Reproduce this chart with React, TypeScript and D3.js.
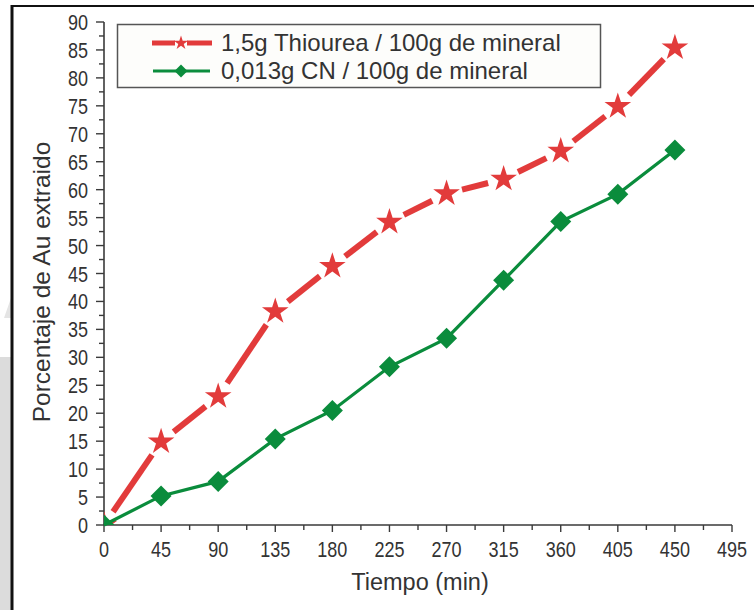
import React, { useEffect, useRef } from "react";
import * as d3 from "d3";

const times = [0, 45, 90, 135, 180, 225, 270, 315, 360, 405, 450];
const thiourea = [0, 14.9, 23.0, 38.2, 46.3, 54.2, 59.3, 61.9, 66.9, 74.9, 85.4];
const cyanide = [0, 5.2, 7.8, 15.4, 20.5, 28.3, 33.4, 43.8, 54.3, 59.2, 67.1];
const xTicks = [0, 45, 90, 135, 180, 225, 270, 315, 360, 405, 450, 495];
const yTicks = [0, 5, 10, 15, 20, 25, 30, 35, 40, 45, 50, 55, 60, 65, 70, 75, 80, 85, 90];
const seriesNames = ["1,5g Thiourea / 100g de mineral", "0,013g CN / 100g de mineral"];
const xTitle = "Tiempo (min)";
const yTitle = "Porcentaje de Au extraido";

const RED = "#e23b3b";
const GREEN = "#0a8c3c";
const AXIS = "#3a3a3a";
const FONT = "'Liberation Sans', Arial, sans-serif";

export default function App() {
  const ref = useRef<SVGSVGElement>(null);

  useEffect(() => {
    const svg = d3.select(ref.current);
    svg.selectAll("*").remove();

    const x = d3.scaleLinear().domain([0, 495]).range([104, 732]);
    const y = d3.scaleLinear().domain([0, 90]).range([525, 22]);

    // frame / screenshot decorations
    svg.append("rect").attr("x", 0).attr("y", 0).attr("width", 754).attr("height", 610).attr("fill", "#fff");
    svg.append("rect").attr("x", 0).attr("y", 357).attr("width", 11).attr("height", 253).attr("fill", "#dcdcdc");
    svg.append("polygon").attr("points", "11,298 11,318 4,318").attr("fill", "#e4e4e4");
    svg.append("line").attr("x1", 11).attr("x2", 754).attr("y1", 6).attr("y2", 6).attr("stroke", "#111").attr("stroke-width", 2);
    svg.append("line").attr("x1", 12).attr("x2", 12).attr("y1", 5).attr("y2", 610).attr("stroke", "#111").attr("stroke-width", 3);

    const defs = svg.append("defs");
    defs.append("clipPath").attr("id", "plotclip").append("rect")
      .attr("x", x(0)).attr("y", 0).attr("width", 754 - x(0)).attr("height", y(0));

    // axes
    const xMinor = d3.range(0, 495, 22.5).filter((v) => v % 45 !== 0);
    const yMinor = d3.range(2.5, 90, 5);

    const gx = svg.append("g").attr("transform", `translate(0,${y(0)})`);
    gx.append("line").attr("x1", x(0)).attr("x2", x(495)).attr("stroke", AXIS).attr("stroke-width", 1.6);
    gx.selectAll("line.maj").data(xTicks).join("line").attr("class", "maj")
      .attr("x1", (d) => x(d)).attr("x2", (d) => x(d)).attr("y1", 0).attr("y2", 7)
      .attr("stroke", AXIS).attr("stroke-width", 1.4);
    gx.selectAll("line.min").data(xMinor).join("line").attr("class", "min")
      .attr("x1", (d) => x(d)).attr("x2", (d) => x(d)).attr("y1", 0).attr("y2", 5)
      .attr("stroke", AXIS).attr("stroke-width", 1.4);
    gx.selectAll("text").data(xTicks).join("text")
      .attr("transform", (d) => `translate(${x(d)},32) scale(0.82,1)`).attr("text-anchor", "middle")
      .attr("font-family", FONT).attr("font-size", 22).attr("fill", "#333")
      .text((d) => String(d));

    const gy = svg.append("g").attr("transform", `translate(${x(0)},0)`);
    gy.append("line").attr("y1", y(0)).attr("y2", y(90)).attr("stroke", AXIS).attr("stroke-width", 1.6);
    gy.selectAll("line.maj").data(yTicks).join("line").attr("class", "maj")
      .attr("y1", (d) => y(d)).attr("y2", (d) => y(d)).attr("x1", 0).attr("x2", -8)
      .attr("stroke", AXIS).attr("stroke-width", 1.4);
    gy.selectAll("line.min").data(yMinor).join("line").attr("class", "min")
      .attr("y1", (d) => y(d)).attr("y2", (d) => y(d)).attr("x1", 0).attr("x2", -5)
      .attr("stroke", AXIS).attr("stroke-width", 1.4);
    gy.selectAll("text").data(yTicks).join("text")
      .attr("transform", (d) => `translate(-16,${y(d) + 8}) scale(0.82,1)`).attr("text-anchor", "end")
      .attr("font-family", FONT).attr("font-size", 22).attr("fill", "#333")
      .text((d) => String(d));

    svg.append("text").attr("x", 420).attr("y", 590).attr("text-anchor", "middle")
      .attr("font-family", FONT).attr("font-size", 23.5).attr("fill", "#333").text(xTitle);
    svg.append("text").attr("transform", `translate(50,282) rotate(-90)`).attr("text-anchor", "middle")
      .attr("font-family", FONT).attr("font-size", 24.5).attr("fill", "#333").text(yTitle);

    const starSize = (r: number) => (r * r) / 0.8908130915292852;
    const star = (r: number) => d3.symbol().type(d3.symbolStar).size(starSize(r))()!;
    const diamond = (h: number) => d3.symbol().type(d3.symbolSquare).size(2 * h * h)()!;

    const plot = svg.append("g");

    // red series: segments with gaps around markers
    const redPts = times.map((t, i) => [x(t), y(thiourea[i])] as [number, number]);
    const gap = 16;
    const segs: [number, number, number, number][] = [];
    for (let i = 0; i < redPts.length - 1; i++) {
      const [x1, y1] = redPts[i];
      const [x2, y2] = redPts[i + 1];
      const L = Math.hypot(x2 - x1, y2 - y1);
      const ux = (x2 - x1) / L, uy = (y2 - y1) / L;
      segs.push([x1 + ux * gap, y1 + uy * gap, x2 - ux * gap, y2 - uy * gap]);
    }
    plot.selectAll("line.red").data(segs).join("line").attr("class", "red")
      .attr("x1", (d) => d[0]).attr("y1", (d) => d[1]).attr("x2", (d) => d[2]).attr("y2", (d) => d[3])
      .attr("stroke", RED).attr("stroke-width", 6);
    const redMarks = plot.append("g").attr("clip-path", "url(#plotclip)");
    redMarks.selectAll("path").data(redPts).join("path")
      .attr("d", star(14)).attr("transform", (d) => `translate(${d[0]},${d[1]})`)
      .attr("fill", RED);

    const greenPts = times.map((t, i) => [x(t), y(cyanide[i])] as [number, number]);
    plot.append("path").attr("d", d3.line()(greenPts)).attr("fill", "none")
      .attr("stroke", GREEN).attr("stroke-width", 3.2);
    const greenMarks = plot.append("g").attr("clip-path", "url(#plotclip)");
    greenMarks.selectAll("path").data(greenPts).join("path")
      .attr("d", diamond(10.5)).attr("transform", (d) => `translate(${d[0]},${d[1]}) rotate(45)`)
      .attr("fill", GREEN);

    // legend
    const lg = svg.append("g");
    lg.append("rect").attr("x", 117.5).attr("y", 24.5).attr("width", 483).attr("height", 63)
      .attr("fill", "#fdfdfb").attr("stroke", "#555").attr("stroke-width", 1.5);
    lg.append("line").attr("x1", 152).attr("x2", 175).attr("y1", 43).attr("y2", 43).attr("stroke", RED).attr("stroke-width", 5);
    lg.append("line").attr("x1", 187).attr("x2", 212).attr("y1", 43).attr("y2", 43).attr("stroke", RED).attr("stroke-width", 5);
    lg.append("path").attr("d", star(7.5)).attr("transform", "translate(181,43)").attr("fill", RED);
    lg.append("line").attr("x1", 153).attr("x2", 210).attr("y1", 71).attr("y2", 71).attr("stroke", GREEN).attr("stroke-width", 3);
    lg.append("path").attr("d", diamond(6.5)).attr("transform", "translate(181,71) rotate(45)").attr("fill", GREEN);
    lg.selectAll("text").data(seriesNames).join("text")
      .attr("x", 221).attr("y", (d, i) => 51 + i * 28)
      .attr("font-family", FONT).attr("font-size", 24).attr("fill", "#333")
      .text((d) => d);
  }, []);

  return <svg ref={ref} width={754} height={610} style={{ position: "absolute", left: 0, top: 0 }} />;
}
